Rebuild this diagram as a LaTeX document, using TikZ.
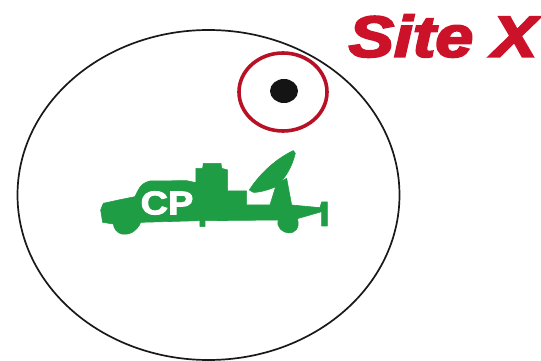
\documentclass[tikz,border=0pt]{standalone}
\usepackage{fontspec}
\newfontfamily\labelfont[FakeBold=2.5]{Liberation Sans Bold}
\newfontfamily\titlefont[FakeBold=3.5]{Liberation Sans Bold Italic}
\definecolor{truckgreen}{HTML}{1F9D45}
\definecolor{sitered}{HTML}{CC1228}
\tikzset{
  truck/.style={fill=truckgreen,draw=truckgreen,line width=0.6pt,line join=round},
  boundary/.style={draw=black!90,line width=1.7pt},
  ring/.style={draw=sitered!90!black,line width=3.6pt}
}
\begin{document}
\begin{tikzpicture}[x=1pt,y=-1pt]
\useasboundingbox (0,0) rectangle (541,361);
\draw[boundary] (208.5,195) ellipse [x radius=191,y radius=165];
\draw[ring] (283,92) ellipse [x radius=44,y radius=39];
\fill[black!92] (284,91) ellipse [x radius=14,y radius=12];
\begin{scope}[shift={(90,140)},x=0.3333pt,y=-0.3333pt]
  \filldraw[truck] (40,190) -- (95,178) -- (135,170)
    .. controls (145,150) and (150,130) .. (180,123)
    -- (290,122) -- (318,128) -- (318,85) -- (338,85) -- (340,70) -- (393,70)
    -- (395,85) -- (413,90) -- (413,153) -- (470,153) -- (470,195) -- (540,195)
    -- (557,140) -- (572,125) -- (590,115) -- (605,195) -- (690,203) -- (695,186)
    -- (712,186) -- (712,258) -- (695,258) -- (695,215) -- (622,236)
    .. controls (632,265) and (612,280) .. (597,279)
    .. controls (578,278) and (558,262) .. (565,240)
    -- (345,242) -- (345,260) -- (330,260) -- (330,242) -- (152,247)
    .. controls (140,276) and (115,286) .. (95,282)
    .. controls (80,278) and (72,266) .. (70,252)
    -- (38,247) -- (32,210) -- cycle;
  \filldraw[truck] (478,150) .. controls (510,100) and (560,55) .. (610,32)
    -- (616,40) .. controls (605,85) and (585,115) .. (558,140)
    .. controls (535,150) and (505,158) .. (490,157) -- cycle;
\end{scope}
\node[text=white,inner sep=0pt,font=\labelfont\fontsize{33}{33}\selectfont,xscale=1.15] (cp) at (167,203) {CP};
\node[text=sitered,inner sep=0pt,font=\titlefont\fontsize{58}{58}\selectfont,xscale=1.17] (site) at (443,36) {Site X};
\end{tikzpicture}
\end{document}
